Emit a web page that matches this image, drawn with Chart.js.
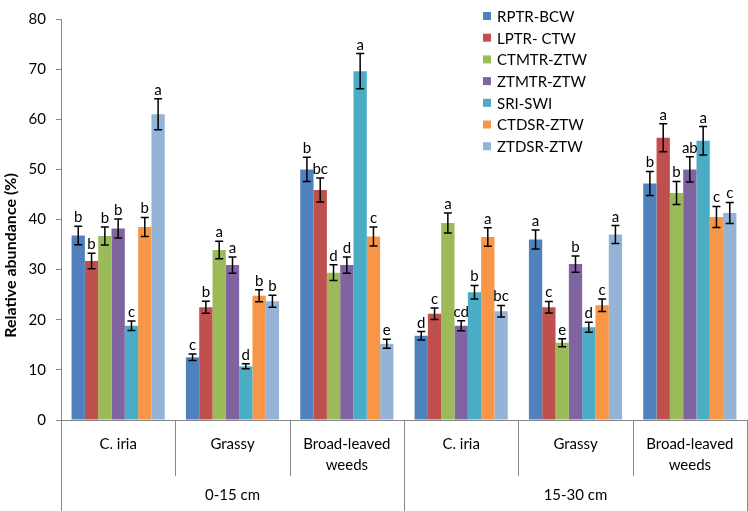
<!DOCTYPE html>
<html>
<head>
<meta charset="utf-8">
<script src="https://cdn.jsdelivr.net/npm/chart.js@4.4.0/dist/chart.umd.min.js"></script>
<style>
  html, body { margin: 0; padding: 0; background: #fff; }
  #wrap { width: 748px; height: 511px; position: relative; }
</style>
</head>
<body>
<div id="wrap"><canvas id="grafico"></canvas></div>
<script>
// categorias (eixo x) e profundidades (segundo nível)
var categorias = ['C. iria', 'Grassy', ['Broad-leaved', 'weeds'], 'C. iria', 'Grassy', ['Broad-leaved', 'weeds']];
var profundidades = ['0-15 cm', '15-30 cm'];
var tituloY = 'Relative abundance (%)';

var series = ['RPTR-BCW', 'LPTR- CTW', 'CTMTR-ZTW', 'ZTMTR-ZTW', 'SRI-SWI', 'CTDSR-ZTW', 'ZTDSR-ZTW'];
var cores = ['#4F81BD', '#C0504D', '#9BBB59', '#8064A2', '#4BACC6', '#F79646', '#95B3D7'];

// valores médios (%)
var rptr  = [36.8, 12.5, 50.0, 16.8, 36.0, 47.2];
var lptr  = [31.7, 22.5, 45.9, 21.2, 22.5, 56.3];
var ctmtr = [36.7, 33.9, 29.4, 39.3, 15.4, 45.3];
var ztmtr = [38.2, 30.9, 30.9, 18.8, 31.1, 50.0];
var sri   = [18.8, 10.7, 69.6, 25.5, 18.5, 55.7];
var ctdsr = [38.5, 24.8, 36.6, 36.5, 22.9, 40.5];
var ztdsr = [61.0, 23.7, 15.2, 21.7, 37.0, 41.3];

// erro padrão
var erroRptr  = [1.85, 0.65, 2.4, 0.85, 1.9, 2.4];
var erroLptr  = [1.55, 1.2, 2.4, 1.15, 1.15, 2.8];
var erroCtmtr = [1.8, 1.75, 1.55, 2.0, 0.8, 2.3];
var erroZtmtr = [1.9, 1.6, 1.6, 1.0, 1.6, 2.5];
var erroSri   = [0.95, 0.5, 3.5, 1.35, 1.0, 2.85];
var erroCtdsr = [1.9, 1.2, 1.9, 1.85, 1.25, 2.1];
var erroZtdsr = [3.1, 1.2, 0.9, 1.15, 1.8, 2.1];

// letras de significância
var letrasRptr  = ['b', 'c', 'b', 'd', 'a', 'b'];
var letrasLptr  = ['b', 'b', 'bc', 'c', 'c', 'a'];
var letrasCtmtr = ['b', 'a', 'd', 'a', 'e', 'b'];
var letrasZtmtr = ['b', 'a', 'd', 'cd', 'b', 'ab'];
var letrasSri   = ['c', 'd', 'a', 'b', 'd', 'a'];
var letrasCtdsr = ['b', 'b', 'c', 'a', 'c', 'c'];
var letrasZtdsr = ['a', 'b', 'e', 'bc', 'a', 'c'];

var valores = [rptr, lptr, ctmtr, ztmtr, sri, ctdsr, ztdsr];
var erros = [erroRptr, erroLptr, erroCtmtr, erroZtmtr, erroSri, erroCtdsr, erroZtdsr];
var letras = [letrasRptr, letrasLptr, letrasCtmtr, letrasZtmtr, letrasSri, letrasCtdsr, letrasZtdsr];

var fonte = 'Lato, "Open Sans", sans-serif';
var corEixo = '#868686';

// barras de erro + letras
var pluginErros = {
    id: 'erros',
    afterDatasetsDraw: function(chart) {
        var ctx = chart.ctx;
        var y = chart.scales.y;
        ctx.save();
        for (var d = 0; d < chart.data.datasets.length; d++) {
            var meta = chart.getDatasetMeta(d);
            meta.data.forEach(function(barra, i) {
                var v = valores[d][i];
                var e = erros[d][i];
                var yAlto = y.getPixelForValue(v + e);
                var yBaixo = y.getPixelForValue(v - e);
                var x = barra.x;
                ctx.strokeStyle = '#000';
                ctx.lineWidth = 1.5;
                ctx.beginPath();
                ctx.moveTo(x, yAlto); ctx.lineTo(x, yBaixo);
                ctx.moveTo(x - 4, yAlto); ctx.lineTo(x + 4, yAlto);
                ctx.moveTo(x - 4, yBaixo); ctx.lineTo(x + 4, yBaixo);
                ctx.stroke();
                ctx.fillStyle = '#000';
                ctx.font = '15px ' + fonte;
                ctx.textAlign = 'center';
                ctx.textBaseline = 'alphabetic';
                ctx.fillText(letras[d][i], x, yAlto - 4);
            });
        }
        ctx.restore();
    }
};

// eixo x em dois níveis + título do eixo y
var pluginEixos = {
    id: 'eixos',
    afterDraw: function(chart) {
        var ctx = chart.ctx;
        var xs = chart.scales.x;
        var base = chart.chartArea.bottom;
        var passo = xs.getPixelForValue(1) - xs.getPixelForValue(0);
        var inicio = xs.getPixelForValue(0) - passo / 2;
        ctx.save();
        ctx.strokeStyle = corEixo;
        ctx.lineWidth = 1;
        for (var i = 0; i <= categorias.length; i++) {
            var xb = Math.round(inicio + i * passo) + 0.5;
            var fim = (i % 3 === 0) ? 511 : 476;
            ctx.beginPath();
            ctx.moveTo(xb, base);
            ctx.lineTo(xb, fim);
            ctx.stroke();
        }
        ctx.fillStyle = '#000';
        ctx.font = '15px ' + fonte;
        ctx.textAlign = 'center';
        ctx.textBaseline = 'middle';
        categorias.forEach(function(c, i) {
            var linhas = Array.isArray(c) ? c : [c];
            var xc = xs.getPixelForValue(i);
            linhas.forEach(function(l, k) {
                ctx.fillText(l, xc, base + 24 + k * 21);
            });
        });
        profundidades.forEach(function(p, j) {
            var xc = inicio + (j * 3 + 1.5) * passo;
            ctx.fillText(p, xc, base + 75);
        });

        // título do eixo y, centrado na altura total
        ctx.translate(11, chart.height / 2);
        ctx.rotate(-Math.PI / 2);
        ctx.font = 'bold 16px ' + fonte;
        ctx.fillText(tituloY, 0, 0);
        ctx.restore();
    }
};

// legenda dentro da área do gráfico
var pluginLegenda = {
    id: 'legenda',
    afterDraw: function(chart) {
        var ctx = chart.ctx;
        ctx.save();
        ctx.font = '15px ' + fonte;
        ctx.textAlign = 'left';
        ctx.textBaseline = 'middle';
        series.forEach(function(s, i) {
            var yc = 16 + i * 21.7;
            ctx.fillStyle = cores[i];
            ctx.fillRect(483, yc - 4, 8, 8);
            ctx.fillStyle = '#000';
            ctx.fillText(s, 497, yc + 1);
        });
        ctx.restore();
    }
};

var datasets = series.map(function(s, i) {
    return {
        label: s,
        data: valores[i],
        backgroundColor: cores[i],
        borderWidth: 0,
        categoryPercentage: 0.815,
        barPercentage: 1.0
    };
});

var ctx = document.getElementById('grafico').getContext('2d');
var grafico = new Chart(ctx, {
    type: 'bar',
    data: {
        labels: categorias,
        datasets: datasets
    },
    options: {
        responsive: true,
        maintainAspectRatio: false,
        animation: false,
        layout: { padding: { top: 9, right: 1, left: 0, bottom: 0 } },
        plugins: {
            legend: { display: false },
            tooltip: { enabled: false }
        },
        scales: {
            x: {
                grid: { display: false },
                ticks: { display: false },
                border: { color: corEixo },
                afterFit: function(s) { s.height = 91; }
            },
            y: {
                min: 0,
                max: 80,
                ticks: { stepSize: 10, color: '#000', font: { size: 15, family: fonte }, padding: 10 },
                grid: { drawOnChartArea: false, tickLength: 5, color: corEixo },
                border: { color: corEixo },
                afterFit: function(s) { s.width = 61; }
            }
        }
    },
    plugins: [pluginErros, pluginEixos, pluginLegenda]
});
</script>
</body>
</html>
